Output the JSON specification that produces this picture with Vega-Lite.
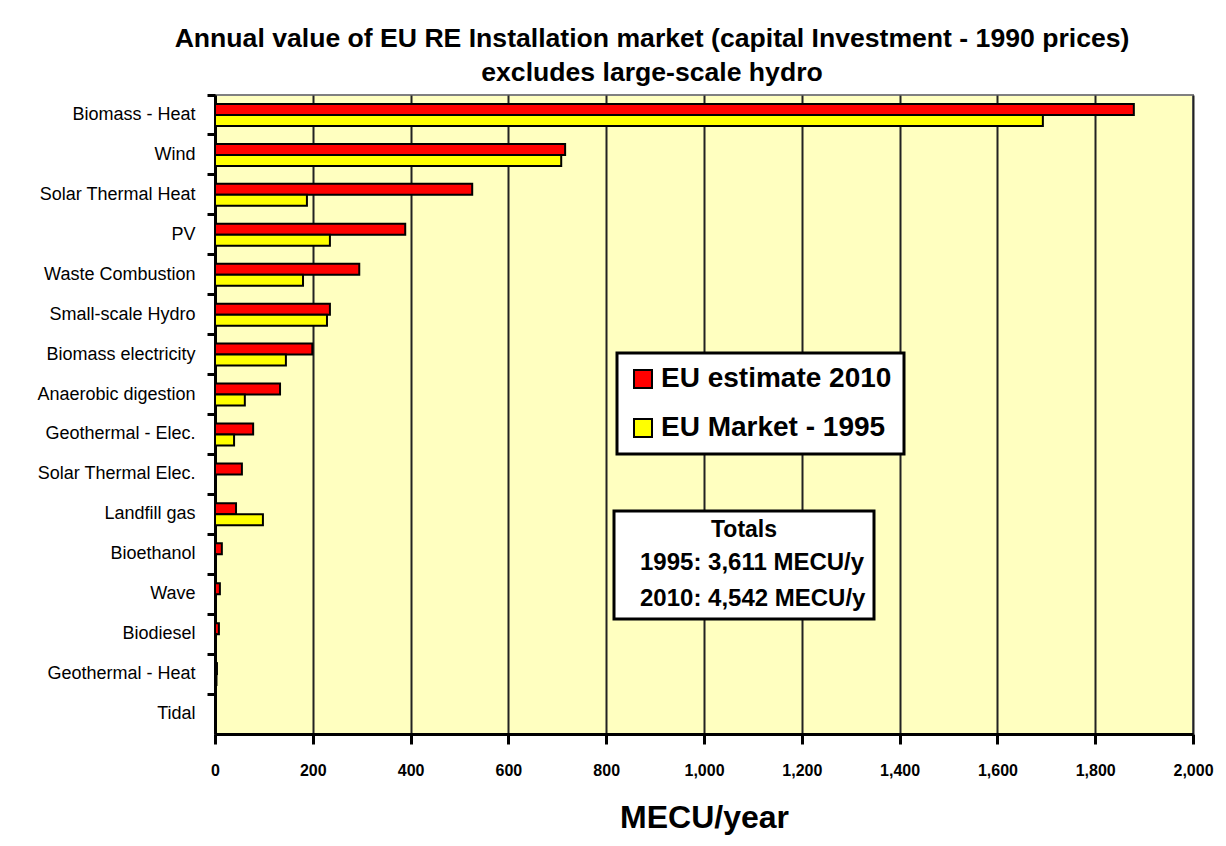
{
  "$schema": "https://vega.github.io/schema/vega-lite/v6.json",
  "width": 978,
  "height": 639,
  "autosize": {"type": "none"},
  "padding": {"left": 215, "top": 95, "right": 33, "bottom": 112},
  "background": "white",
  "title": {
    "text": ["Annual value of EU RE Installation market (capital Investment - 1990 prices)", "excludes large-scale hydro"],
    "font": "Liberation Sans",
    "fontSize": 26.6,
    "fontWeight": "bold",
    "color": "black",
    "lineHeight": 34,
    "anchor": "middle",
    "frame": "group",
    "dx": -52,
    "offset": 7
  },
  "data": {
    "values": [
      {"source": "Biomass -  Heat", "series": "EU estimate 2010", "value": 1879, "totals": "2010: 4,542 MECU/y"},
      {"source": "Biomass -  Heat", "series": "EU Market - 1995", "value": 1693, "totals": "1995: 3,611 MECU/y"},
      {"source": "Wind", "series": "EU estimate 2010", "value": 716, "totals": "2010: 4,542 MECU/y"},
      {"source": "Wind", "series": "EU Market - 1995", "value": 708, "totals": "1995: 3,611 MECU/y"},
      {"source": "Solar Thermal  Heat", "series": "EU estimate 2010", "value": 526, "totals": "2010: 4,542 MECU/y"},
      {"source": "Solar Thermal  Heat", "series": "EU Market - 1995", "value": 188, "totals": "1995: 3,611 MECU/y"},
      {"source": "PV", "series": "EU estimate 2010", "value": 389, "totals": "2010: 4,542 MECU/y"},
      {"source": "PV", "series": "EU Market - 1995", "value": 235, "totals": "1995: 3,611 MECU/y"},
      {"source": "Waste Combustion", "series": "EU estimate 2010", "value": 295, "totals": "2010: 4,542 MECU/y"},
      {"source": "Waste Combustion", "series": "EU Market - 1995", "value": 180, "totals": "1995: 3,611 MECU/y"},
      {"source": "Small-scale  Hydro", "series": "EU estimate 2010", "value": 235, "totals": "2010: 4,542 MECU/y"},
      {"source": "Small-scale  Hydro", "series": "EU Market - 1995", "value": 229, "totals": "1995: 3,611 MECU/y"},
      {"source": "Biomass electricity", "series": "EU estimate 2010", "value": 199, "totals": "2010: 4,542 MECU/y"},
      {"source": "Biomass electricity", "series": "EU Market - 1995", "value": 145, "totals": "1995: 3,611 MECU/y"},
      {"source": "Anaerobic digestion", "series": "EU estimate 2010", "value": 133, "totals": "2010: 4,542 MECU/y"},
      {"source": "Anaerobic digestion", "series": "EU Market - 1995", "value": 61, "totals": "1995: 3,611 MECU/y"},
      {"source": "Geothermal - Elec.", "series": "EU estimate 2010", "value": 78, "totals": "2010: 4,542 MECU/y"},
      {"source": "Geothermal - Elec.", "series": "EU Market - 1995", "value": 39, "totals": "1995: 3,611 MECU/y"},
      {"source": "Solar Thermal  Elec.", "series": "EU estimate 2010", "value": 55, "totals": "2010: 4,542 MECU/y"},
      {"source": "Solar Thermal  Elec.", "series": "EU Market - 1995", "value": 0, "totals": "1995: 3,611 MECU/y"},
      {"source": "Landfill gas", "series": "EU estimate 2010", "value": 43, "totals": "2010: 4,542 MECU/y"},
      {"source": "Landfill gas", "series": "EU Market - 1995", "value": 98, "totals": "1995: 3,611 MECU/y"},
      {"source": "Bioethanol", "series": "EU estimate 2010", "value": 14, "totals": "2010: 4,542 MECU/y"},
      {"source": "Bioethanol", "series": "EU Market - 1995", "value": 2, "totals": "1995: 3,611 MECU/y"},
      {"source": "Wave", "series": "EU estimate 2010", "value": 10, "totals": "2010: 4,542 MECU/y"},
      {"source": "Wave", "series": "EU Market - 1995", "value": 0, "totals": "1995: 3,611 MECU/y"},
      {"source": "Biodiesel", "series": "EU estimate 2010", "value": 8, "totals": "2010: 4,542 MECU/y"},
      {"source": "Biodiesel", "series": "EU Market - 1995", "value": 2, "totals": "1995: 3,611 MECU/y"},
      {"source": "Geothermal -  Heat", "series": "EU estimate 2010", "value": 4, "totals": "2010: 4,542 MECU/y"},
      {"source": "Geothermal -  Heat", "series": "EU Market - 1995", "value": 3, "totals": "1995: 3,611 MECU/y"},
      {"source": "Tidal", "series": "EU estimate 2010", "value": 0, "totals": "2010: 4,542 MECU/y"},
      {"source": "Tidal", "series": "EU Market - 1995", "value": 0, "totals": "1995: 3,611 MECU/y"}
    ]
  },
  "mark": {"type": "bar", "stroke": "black", "strokeWidth": 2},
  "encoding": {
    "y": {
      "field": "source",
      "type": "nominal",
      "sort": null,
      "scale": {"paddingInner": 0, "paddingOuter": 0},
      "axis": {
        "title": null,
        "bandPosition": 0,
        "domainColor": "black",
        "domainWidth": 3,
        "tickColor": "black",
        "tickWidth": 3,
        "tickSize": 8,
        "labelFont": "Liberation Sans",
        "labelFontSize": 18,
        "labelColor": "black",
        "labelPadding": 12,
        "labelLimit": 300,
        "grid": false
      }
    },
    "yOffset": {
      "field": "series",
      "type": "nominal",
      "sort": ["EU estimate 2010", "EU Market - 1995"],
      "scale": {"paddingInner": 0, "paddingOuter": 0.82}
    },
    "x": {
      "field": "value",
      "type": "quantitative",
      "scale": {"domain": [0, 2000], "nice": false},
      "axis": {
        "title": "MECU/year",
        "titleFont": "Liberation Sans",
        "titleFontSize": 32,
        "titleFontWeight": "bold",
        "titleColor": "black",
        "titlePadding": 24,
        "values": [0, 200, 400, 600, 800, 1000, 1200, 1400, 1600, 1800, 2000],
        "format": ",d",
        "labelFont": "Liberation Sans",
        "labelFontSize": 16,
        "labelFontWeight": "bold",
        "labelColor": "black",
        "labelPadding": 18,
        "labelFlush": false,
        "domainColor": "black",
        "domainWidth": 3,
        "tickColor": "black",
        "tickWidth": 3,
        "tickSize": 10,
        "grid": true,
        "gridColor": "#222222",
        "gridWidth": 2
      }
    },
    "color": {
      "field": "series",
      "type": "nominal",
      "scale": {"domain": ["EU estimate 2010", "EU Market - 1995"], "range": ["#FF0000", "#FFFF00"]},
      "legend": {
        "title": null,
        "orient": "none",
        "legendX": 402,
        "legendY": 258,
        "fillColor": "white",
        "strokeColor": "black",
        "padding": 12,
        "labelFont": "Liberation Sans",
        "labelFontSize": 28,
        "labelFontWeight": "bold",
        "labelColor": "black",
        "labelOffset": 4,
        "labelLimit": 400,
        "symbolType": "square",
        "symbolSize": 324,
        "symbolStrokeColor": "black",
        "symbolStrokeWidth": 2,
        "rowPadding": 21,
        "encode": {"legend": {"update": {"strokeWidth": {"value": 3}}}}
      }
    },
    "opacity": {
      "field": "totals",
      "type": "nominal",
      "scale": {"domain": ["1995: 3,611 MECU/y", "2010: 4,542 MECU/y"], "range": [1, 1]},
      "legend": {
        "title": "Totals",
        "orient": "none",
        "legendX": 399,
        "legendY": 416,
        "fillColor": "white",
        "strokeColor": "black",
        "padding": 8,
        "titleFont": "Liberation Sans",
        "titleFontSize": 23,
        "titleFontWeight": "bold",
        "titleColor": "black",
        "titleAnchor": "middle",
        "titlePadding": 9,
        "labelFont": "Liberation Sans",
        "labelFontSize": 24,
        "labelFontWeight": "bold",
        "labelColor": "black",
        "labelOffset": -6,
        "labelLimit": 400,
        "symbolSize": 0,
        "symbolOpacity": 0,
        "symbolStrokeWidth": 0,
        "symbolFillColor": "transparent",
        "symbolStrokeColor": "transparent",
        "rowPadding": 12,
        "encode": {"legend": {"update": {"strokeWidth": {"value": 3}}}}
      }
    }
  },
  "config": {
    "view": {"fill": "#FFFFC0", "stroke": "#808080", "strokeWidth": 2}
  }
}
